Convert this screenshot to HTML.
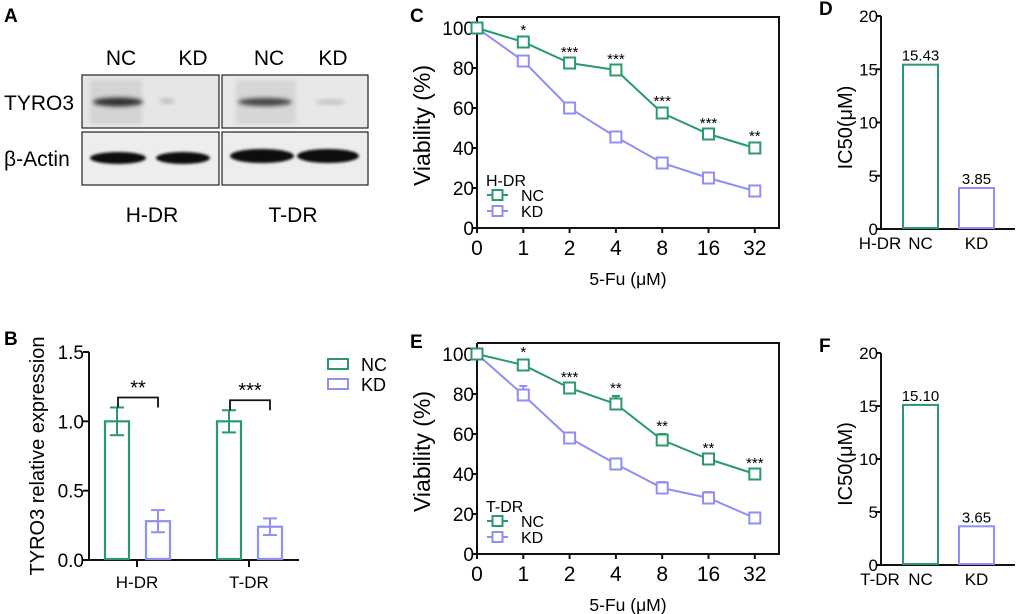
<!DOCTYPE html>
<html><head><meta charset="utf-8"><style>
html,body{margin:0;padding:0;background:#fff;}
svg{display:block;font-family:"Liberation Sans",Arial,sans-serif;}
</style></head><body>
<svg id="fig" width="1020" height="614" viewBox="0 0 1020 614" xmlns="http://www.w3.org/2000/svg">
<defs>
<filter id="blur2" x="-20%" y="-50%" width="140%" height="200%"><feGaussianBlur stdDeviation="2"/></filter>
<filter id="blur1" x="-20%" y="-50%" width="140%" height="200%"><feGaussianBlur stdDeviation="1.2"/></filter>
</defs>
<g>
<text x="4" y="22" font-size="19" font-weight="bold">A</text>
<g font-size="21" text-anchor="middle">
<text x="121" y="65">NC</text>
<text x="193" y="65">KD</text>
<text x="269" y="65">NC</text>
<text x="333" y="65">KD</text>
<text x="152" y="222">H-DR</text>
<text x="293" y="222">T-DR</text>
</g>
<text x="4" y="110" font-size="21">TYRO3</text>
<text x="4" y="166" font-size="21">β-Actin</text>
<rect x="82" y="75" width="137" height="53" fill="#e6e6e6" stroke="#222" stroke-width="1.2"/>
<rect x="222" y="75" width="146" height="53" fill="#e8e8e8" stroke="#222" stroke-width="1.2"/>
<rect x="82" y="132" width="137" height="53" fill="#ededed" stroke="#222" stroke-width="1.2"/>
<rect x="222" y="132" width="146" height="53" fill="#ededed" stroke="#222" stroke-width="1.2"/>
<rect x="90" y="80" width="52" height="44" fill="#d4d4d4" filter="url(#blur2)"/>
<rect x="236" y="80" width="60" height="44" fill="#d6d6d6" filter="url(#blur2)"/>
<ellipse cx="118" cy="102" rx="25" ry="4.5" fill="#333" filter="url(#blur2)"/>
<ellipse cx="167" cy="101" rx="8" ry="2.5" fill="#bbb" filter="url(#blur2)"/>
<ellipse cx="265" cy="102" rx="27" ry="4" fill="#444" filter="url(#blur2)"/>
<ellipse cx="330" cy="102" rx="15" ry="2.5" fill="#c0c0c0" filter="url(#blur2)"/>
<ellipse cx="118" cy="158" rx="28" ry="6" fill="#111" filter="url(#blur1)"/>
<ellipse cx="183" cy="158" rx="27" ry="6" fill="#111" filter="url(#blur1)"/>
<ellipse cx="262" cy="156" rx="32" ry="7" fill="#0a0a0a" filter="url(#blur1)"/>
<ellipse cx="328" cy="156" rx="31" ry="7" fill="#0a0a0a" filter="url(#blur1)"/>
</g>
<g id="gB"></g>
<g id="gC"></g>
<g id="gD"></g>
<g id="gE"></g>
<g id="gF"></g>
</svg>
<script>
const GREEN = "#2a9a6e", PURPLE = "#8f8ff5";
// Panel B data
const bGroups = ["H-DR", "T-DR"];
const bNC = [1.0, 1.0];
const bNCerr = [0.10, 0.08];
const bKD = [0.28, 0.24];
const bKDerr = [0.08, 0.06];
const bSig = ["**", "***"];
const bTicks = [0, 0.5, 1.0, 1.5];
const bTickLabels = ["0.0", "0.5", "1.0", "1.5"];
// Panel C data
const doses = ["0", "1", "2", "4", "8", "16", "32"];
const cNC = [100, 93, 82.5, 79, 57.5, 47, 40];
const cNCerr = [1, 2, 1.5, 1.5, 2, 1.5, 2];
const cKD = [100, 83.5, 60, 45.5, 32.5, 25, 18.5];
const cKDerr = [1, 2, 2.5, 1, 1, 1, 1.5];
const cSig = ["", "*", "***", "***", "***", "***", "**"];
// Panel E data
const eNC = [100, 94.5, 83, 75, 57, 47.5, 40];
const eNCerr = [1, 2.5, 1.5, 4, 3, 1.5, 1.5];
const eKD = [100, 79.5, 58, 45, 33, 28, 18];
const eKDerr = [1, 4.5, 1, 1.5, 3, 3, 1];
const eSig = ["", "*", "***", "**", "**", "**", "***"];
const vTicks = [0, 20, 40, 60, 80, 100];
// Panel D/F data
const ic50Labels = ["NC", "KD"];
const dVals = [15.43, 3.85];
const dText = ["15.43", "3.85"];
const fVals = [15.10, 3.65];
const fText = ["15.10", "3.65"];
const icTicks = [0, 5, 10, 15, 20];

const NS = "http://www.w3.org/2000/svg";
function mk(parent, tag, attrs, text) {
  const e = document.createElementNS(NS, tag);
  for (const k in attrs) e.setAttribute(k, attrs[k]);
  if (text !== undefined) e.textContent = text;
  parent.appendChild(e);
  return e;
}

// ---------- Panel B ----------
(function () {
  const g = document.getElementById("gB");
  const x0 = 89, yTop = 352, yBot = 560, vmax = 1.5;
  const ys = v => yBot - v / vmax * (yBot - yTop);
  let t = mk(g, "text", {x: 4, y: 345, "font-size": 19, "font-weight": "bold"}, "B");
  
  
  let ax = mk(g, "line", {x1: x0, y1: yTop, x2: x0, y2: yBot + 1, stroke: "#111", "stroke-width": 2});
  
  
  let xa = mk(g, "line", {x1: x0 - 1, y1: yBot, x2: 299, y2: yBot, stroke: "#111", "stroke-width": 2});
  
  
  bTicks.forEach((v, i) => {
    mk(g, "line", {x1: x0 - 6, y1: ys(v), x2: x0, y2: ys(v), stroke: "#111", "stroke-width": 2});
    const tl = mk(g, "text", {x: x0 - 5, y: ys(v) + 7, "font-size": 19, "text-anchor": "end"}, bTickLabels[i]);
    
    
  });
  const yt = mk(g, "text", {x: 0, y: 0, "font-size": 20, "text-anchor": "middle", transform: "translate(44,456) rotate(-90)"}, "TYRO3 relative expression");
  
  
  const centers = [137, 249];
  bGroups.forEach((gname, i) => {
    const c = centers[i];
    mk(g, "line", {x1: c, y1: yBot, x2: c, y2: yBot + 7, stroke: "#111", "stroke-width": 2});
    const xl = mk(g, "text", {x: c, y: yBot + 28, "font-size": 17, "text-anchor": "middle"}, gname);
    
    
    const bars = [[c - 33, bNC[i], bNCerr[i], GREEN, "nc"], [c + 8, bKD[i], bKDerr[i], PURPLE, "kd"]];
    bars.forEach(([bx, v, er, col, nm]) => {
      const r = mk(g, "rect", {x: bx + 1, y: ys(v), width: 24, height: yBot - ys(v) - 1, fill: "none", stroke: col, "stroke-width": 2.2});
      
      
      const m = bx + 13;
      mk(g, "line", {x1: m, y1: ys(v + er), x2: m, y2: ys(v - er), stroke: col, "stroke-width": 2});
      mk(g, "line", {x1: m - 7, y1: ys(v + er), x2: m + 7, y2: ys(v + er), stroke: col, "stroke-width": 2});
      mk(g, "line", {x1: m - 7, y1: ys(v - er), x2: m + 7, y2: ys(v - er), stroke: col, "stroke-width": 2});
    });
    const top = ys(Math.max(bNC[i] + bNCerr[i], bKD[i] + bKDerr[i])) - 10;
    const bl = c - 19, br = c + 21;
    mk(g, "polyline", {points: `${bl},${top + 10} ${bl},${top} ${br},${top} ${br},${top + 10}`, fill: "none", stroke: "#111", "stroke-width": 1.8});
    const st = mk(g, "text", {x: c + 1, y: top - 3, "font-size": 20, "text-anchor": "middle"}, bSig[i]);
    
    
  });
  [[364, GREEN, "NC"], [384, PURPLE, "KD"]].forEach(([y, col, lab]) => {
    const le = mk(g, "rect", {x: 328, y: y - 5, width: 20, height: 10, fill: "none", stroke: col, "stroke-width": 2});
    
    
    mk(g, "text", {x: 361, y: y + 7, "font-size": 18}, lab);
  });
})();

// ---------- Line panels ----------
function linePanel(id, letter, yTop0, nc, ncErr, kd, kdErr, sig, cell) {
  const g = document.getElementById(id);
  const xL = 477, xR = 779, yBot = yTop0 + 211, y100 = yTop0 + 11;
  const ys = v => yBot - v / 100 * (yBot - y100);
  const xs = i => xL + i * 46.3;
  let t = mk(g, "text", {x: 410, y: yTop0 + 5, "font-size": 19, "font-weight": "bold"}, letter);
  
  
  const fr = mk(g, "polyline", {points: `${xL},${yTop0} ${xR},${yTop0} ${xR},${yBot} ${xL},${yBot} ${xL},${yTop0}`, fill: "none", stroke: "#111", "stroke-width": 2});
  
  
  vTicks.forEach(v => {
    mk(g, "line", {x1: xL - 5, y1: ys(v), x2: xL, y2: ys(v), stroke: "#111", "stroke-width": 2});
    const tl = mk(g, "text", {x: xL - 3, y: ys(v) + 7, "font-size": 19, "text-anchor": "end"}, String(v));
    
    
  });
  doses.forEach((d, i) => {
    mk(g, "line", {x1: xs(i), y1: yBot, x2: xs(i), y2: yBot + 5, stroke: "#111", "stroke-width": 2});
    const tl = mk(g, "text", {x: xs(i), y: yBot + 27, "font-size": 21, "text-anchor": "middle"}, d);
    
    
  });
  const xt = mk(g, "text", {x: 628, y: yBot + 57, "font-size": 17.5, "text-anchor": "middle"}, "5-Fu (μM)");
  
  
  const yt = mk(g, "text", {x: 0, y: 0, "font-size": 23, "text-anchor": "middle", transform: `translate(430,${(yTop0 + yBot) / 2 + 3}) rotate(-90)`}, "Viability (%)");
  
  
  [[kd, kdErr, PURPLE, "kd"], [nc, ncErr, GREEN, "nc"]].forEach(([vals, errs, col, nm]) => {
    const pl = mk(g, "polyline", {points: vals.map((v, i) => xs(i) + "," + ys(v)).join(" "), fill: "none", stroke: col, "stroke-width": 2});
    
    
    vals.forEach((v, i) => {
      const e = errs[i];
      mk(g, "line", {x1: xs(i), y1: ys(v + e), x2: xs(i), y2: ys(v), stroke: col, "stroke-width": 2});
      mk(g, "line", {x1: xs(i) - 4, y1: ys(v + e), x2: xs(i) + 4, y2: ys(v + e), stroke: col, "stroke-width": 2});
      const p = mk(g, "rect", {x: xs(i) - 5.5, y: ys(v) - 5.5, width: 11, height: 11, fill: "#fff", stroke: col, "stroke-width": 2});
      
      
    });
  });
  sig.forEach((s, i) => {
    if (!s) return;
    const st = mk(g, "text", {x: xs(i), y: ys(nc[i] + ncErr[i]) - 3, "font-size": 15, "text-anchor": "middle"}, s);
    
    
  });
  const lt = mk(g, "text", {x: 486, y: yTop0 + 169, "font-size": 16}, cell);
  
  
  [[yTop0 + 178, GREEN, "NC"], [yTop0 + 194, PURPLE, "KD"]].forEach(([y, col, lab]) => {
    mk(g, "line", {x1: 487, y1: y, x2: 508, y2: y, stroke: col, "stroke-width": 2});
    const le = mk(g, "rect", {x: 492.5, y: y - 5, width: 10, height: 10, fill: "#fff", stroke: col, "stroke-width": 2});
    
    
    mk(g, "text", {x: 521, y: y + 6, "font-size": 16}, lab);
  });
}
linePanel("gC", "C", 17, cNC, cNCerr, cKD, cKDerr, cSig, "H-DR");
linePanel("gE", "E", 343, eNC, eNCerr, eKD, eKDerr, eSig, "T-DR");

// ---------- IC50 panels ----------
function icPanel(id, letter, y20, y0, vals, texts, cell) {
  const g = document.getElementById(id);
  const x0 = 881;
  const ys = v => y0 - v / 20 * (y0 - y20);
  let t = mk(g, "text", {x: 819, y: y20 - 1, "font-size": 19, "font-weight": "bold"}, letter);
  
  
  const ax = mk(g, "line", {x1: x0, y1: y20, x2: x0, y2: y0 + 1, stroke: "#111", "stroke-width": 2});
  
  
  const xa = mk(g, "line", {x1: x0 - 1, y1: y0, x2: 1015, y2: y0, stroke: "#111", "stroke-width": 2});
  
  
  icTicks.forEach(v => {
    mk(g, "line", {x1: x0 - 5, y1: ys(v), x2: x0, y2: ys(v), stroke: "#111", "stroke-width": 2});
    const tl = mk(g, "text", {x: x0 - 3, y: ys(v) + 6, "font-size": 17, "text-anchor": "end"}, String(v));
    
    
  });
  const yt = mk(g, "text", {x: 0, y: 0, "font-size": 20, "text-anchor": "middle", transform: `translate(852,${(y20 + y0) / 2 + 5}) rotate(-90)`}, "IC50(μM)");
  
  
  const bx = [903, 959], cols = [GREEN, PURPLE];
  vals.forEach((v, i) => {
    const r = mk(g, "rect", {x: bx[i], y: ys(v), width: 35, height: y0 - ys(v) - 1, fill: "none", stroke: cols[i], "stroke-width": 2});
    
    
    const vl = mk(g, "text", {x: bx[i] + 17.5, y: ys(v) - 4, "font-size": 15, "text-anchor": "middle"}, texts[i]);
    
    
    const xl = mk(g, "text", {x: bx[i] + 17.5, y: y0 + 20, "font-size": 17, "text-anchor": "middle"}, ic50Labels[i]);
    
    
  });
  const cl = mk(g, "text", {x: 880, y: y0 + 20, "font-size": 17, "text-anchor": "middle"}, cell);
  
  
}
icPanel("gD", "D", 16, 229, dVals, dText, "H-DR");
icPanel("gF", "F", 353, 565, fVals, fText, "T-DR");
</script>
</body></html>
